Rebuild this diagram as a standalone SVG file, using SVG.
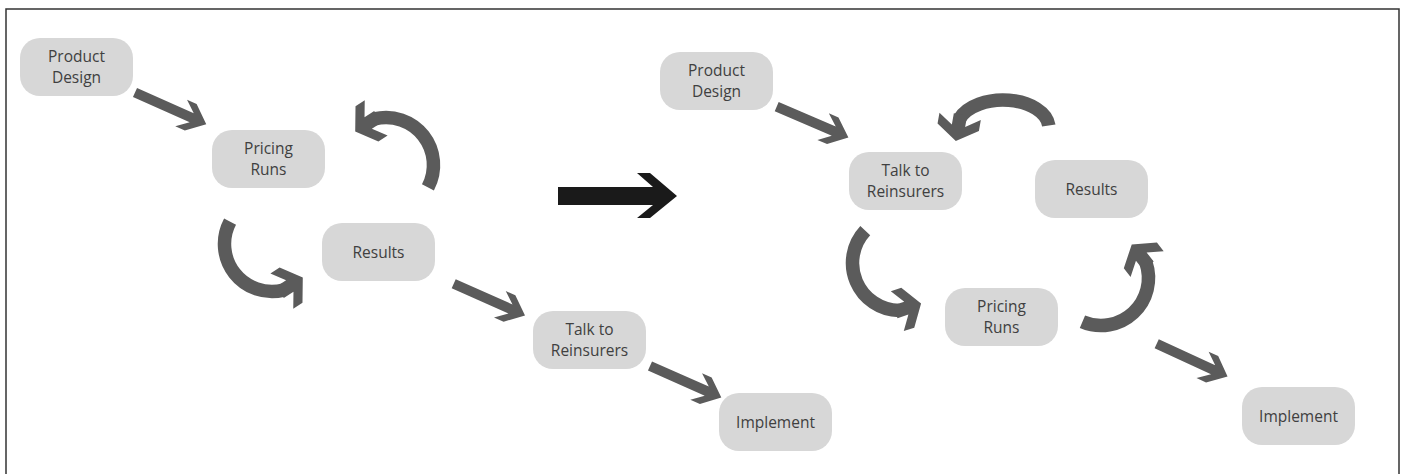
<svg xmlns="http://www.w3.org/2000/svg" xmlns:xlink="http://www.w3.org/1999/xlink" width="1405" height="474" viewBox="0 0 1405 474">
<style>
.box{fill:#d7d7d7}
.t{font-family:"Open Sans","Noto Sans","Liberation Sans",sans-serif;font-size:15.5px;fill:#404040;text-anchor:middle}
.band{fill:none;stroke:#5b5b5b;stroke-width:13.5;stroke-linecap:butt}
.g{fill:#5b5b5b}
</style>
<defs>
<path id="sarrow" d="M0,-5 L62.1,-5 L50.5,-14.5 L61,-14.5 L78,0 L61,14.5 L50.5,14.5 L62.1,5 L0,5 Z"/>
<path id="chead" d="M-4,-6.75 L7.5,-6.75 L-2,-21 L9,-21 L23,0 L9,21 L-2,21 L7.5,6.75 L-4,6.75 Z"/>
</defs>
<rect x="0" y="0" width="1405" height="474" fill="#ffffff"/>
<path d="M6,474 V9 H1399 V474" fill="none" stroke="#333333" stroke-width="1.5"/>

<g id="connectors">
  <use xlink:href="#sarrow" class="g" transform="translate(135,92.5) rotate(24)"/>
  <use xlink:href="#sarrow" class="g" transform="translate(453.7,283.8) rotate(23.9)"/>
  <use xlink:href="#sarrow" class="g" transform="translate(650,366) rotate(23.9)"/>
  <use xlink:href="#sarrow" class="g" transform="translate(776.7,106.7) rotate(23.2)"/>
  <use xlink:href="#sarrow" class="g" transform="translate(1156.7,343.8) rotate(24.7)"/>

  <path class="band" d="M230.06,221.70 A47.5,47.5 0 0 0 283.5,290.1"/>
  <use xlink:href="#chead" class="g" transform="translate(283.5,290.1) rotate(-33)"/>

  <path class="band" d="M427.94,187.30 A47.5,47.5 0 0 0 374.51,118.91"/>
  <use xlink:href="#chead" class="g" transform="translate(374.5,118.9) rotate(147)"/>

  <path class="band" d="M865.26,230.61 A47.5,47.5 0 0 0 899.17,310.49"/>
  <use xlink:href="#chead" class="g" transform="translate(899.2,310.5) rotate(-18)"/>

  <path class="band" d="M1082.44,321.72 A47.5,47.5 0 0 0 1145.91,262.54"/>
  <use xlink:href="#chead" class="g" transform="translate(1145.9,262.5) rotate(-128)"/>

  <path class="band" d="M1048.82,125.56 A46,28 0 0 0 959.77,118.42"/>
  <use xlink:href="#chead" class="g" transform="translate(959.8,118.4) rotate(100)"/>

  <path d="M558,187 L653,187 L637,173 L650,173 L677,196 L650,218 L637,218 L653,205 L558,205 Z" fill="#1a1a1a"/>
</g>

<g id="pd-left"><rect class="box" x="20" y="38" width="113" height="58" rx="20"/><text class="t" x="76.5" y="62">Product</text><text class="t" x="76.5" y="82.5">Design</text></g>
<g id="pr-left"><rect class="box" x="212" y="130" width="113" height="58" rx="20"/><text class="t" x="268.5" y="154">Pricing</text><text class="t" x="268.5" y="174.5">Runs</text></g>
<g id="res-left"><rect class="box" x="322" y="223" width="113" height="58" rx="20"/><text class="t" x="378.5" y="257.5">Results</text></g>
<g id="tr-left"><rect class="box" x="533" y="311" width="113" height="58" rx="20"/><text class="t" x="589.5" y="335">Talk to</text><text class="t" x="589.5" y="355.5">Reinsurers</text></g>
<g id="imp-left"><rect class="box" x="719" y="393" width="113" height="58" rx="20"/><text class="t" x="775.5" y="427.5">Implement</text></g>

<g id="pd-right"><rect class="box" x="660" y="52" width="113" height="58" rx="20"/><text class="t" x="716.5" y="76">Product</text><text class="t" x="716.5" y="96.5">Design</text></g>
<g id="tr-right"><rect class="box" x="849" y="152" width="113" height="58" rx="20"/><text class="t" x="905.5" y="176">Talk to</text><text class="t" x="905.5" y="196.5">Reinsurers</text></g>
<g id="res-right"><rect class="box" x="1035" y="160" width="113" height="58" rx="20"/><text class="t" x="1091.5" y="194.5">Results</text></g>
<g id="pr-right"><rect class="box" x="945" y="288" width="113" height="58" rx="20"/><text class="t" x="1001.5" y="312">Pricing</text><text class="t" x="1001.5" y="332.5">Runs</text></g>
<g id="imp-right"><rect class="box" x="1242" y="387" width="113" height="58" rx="20"/><text class="t" x="1298.5" y="421.5">Implement</text></g>
</svg>
